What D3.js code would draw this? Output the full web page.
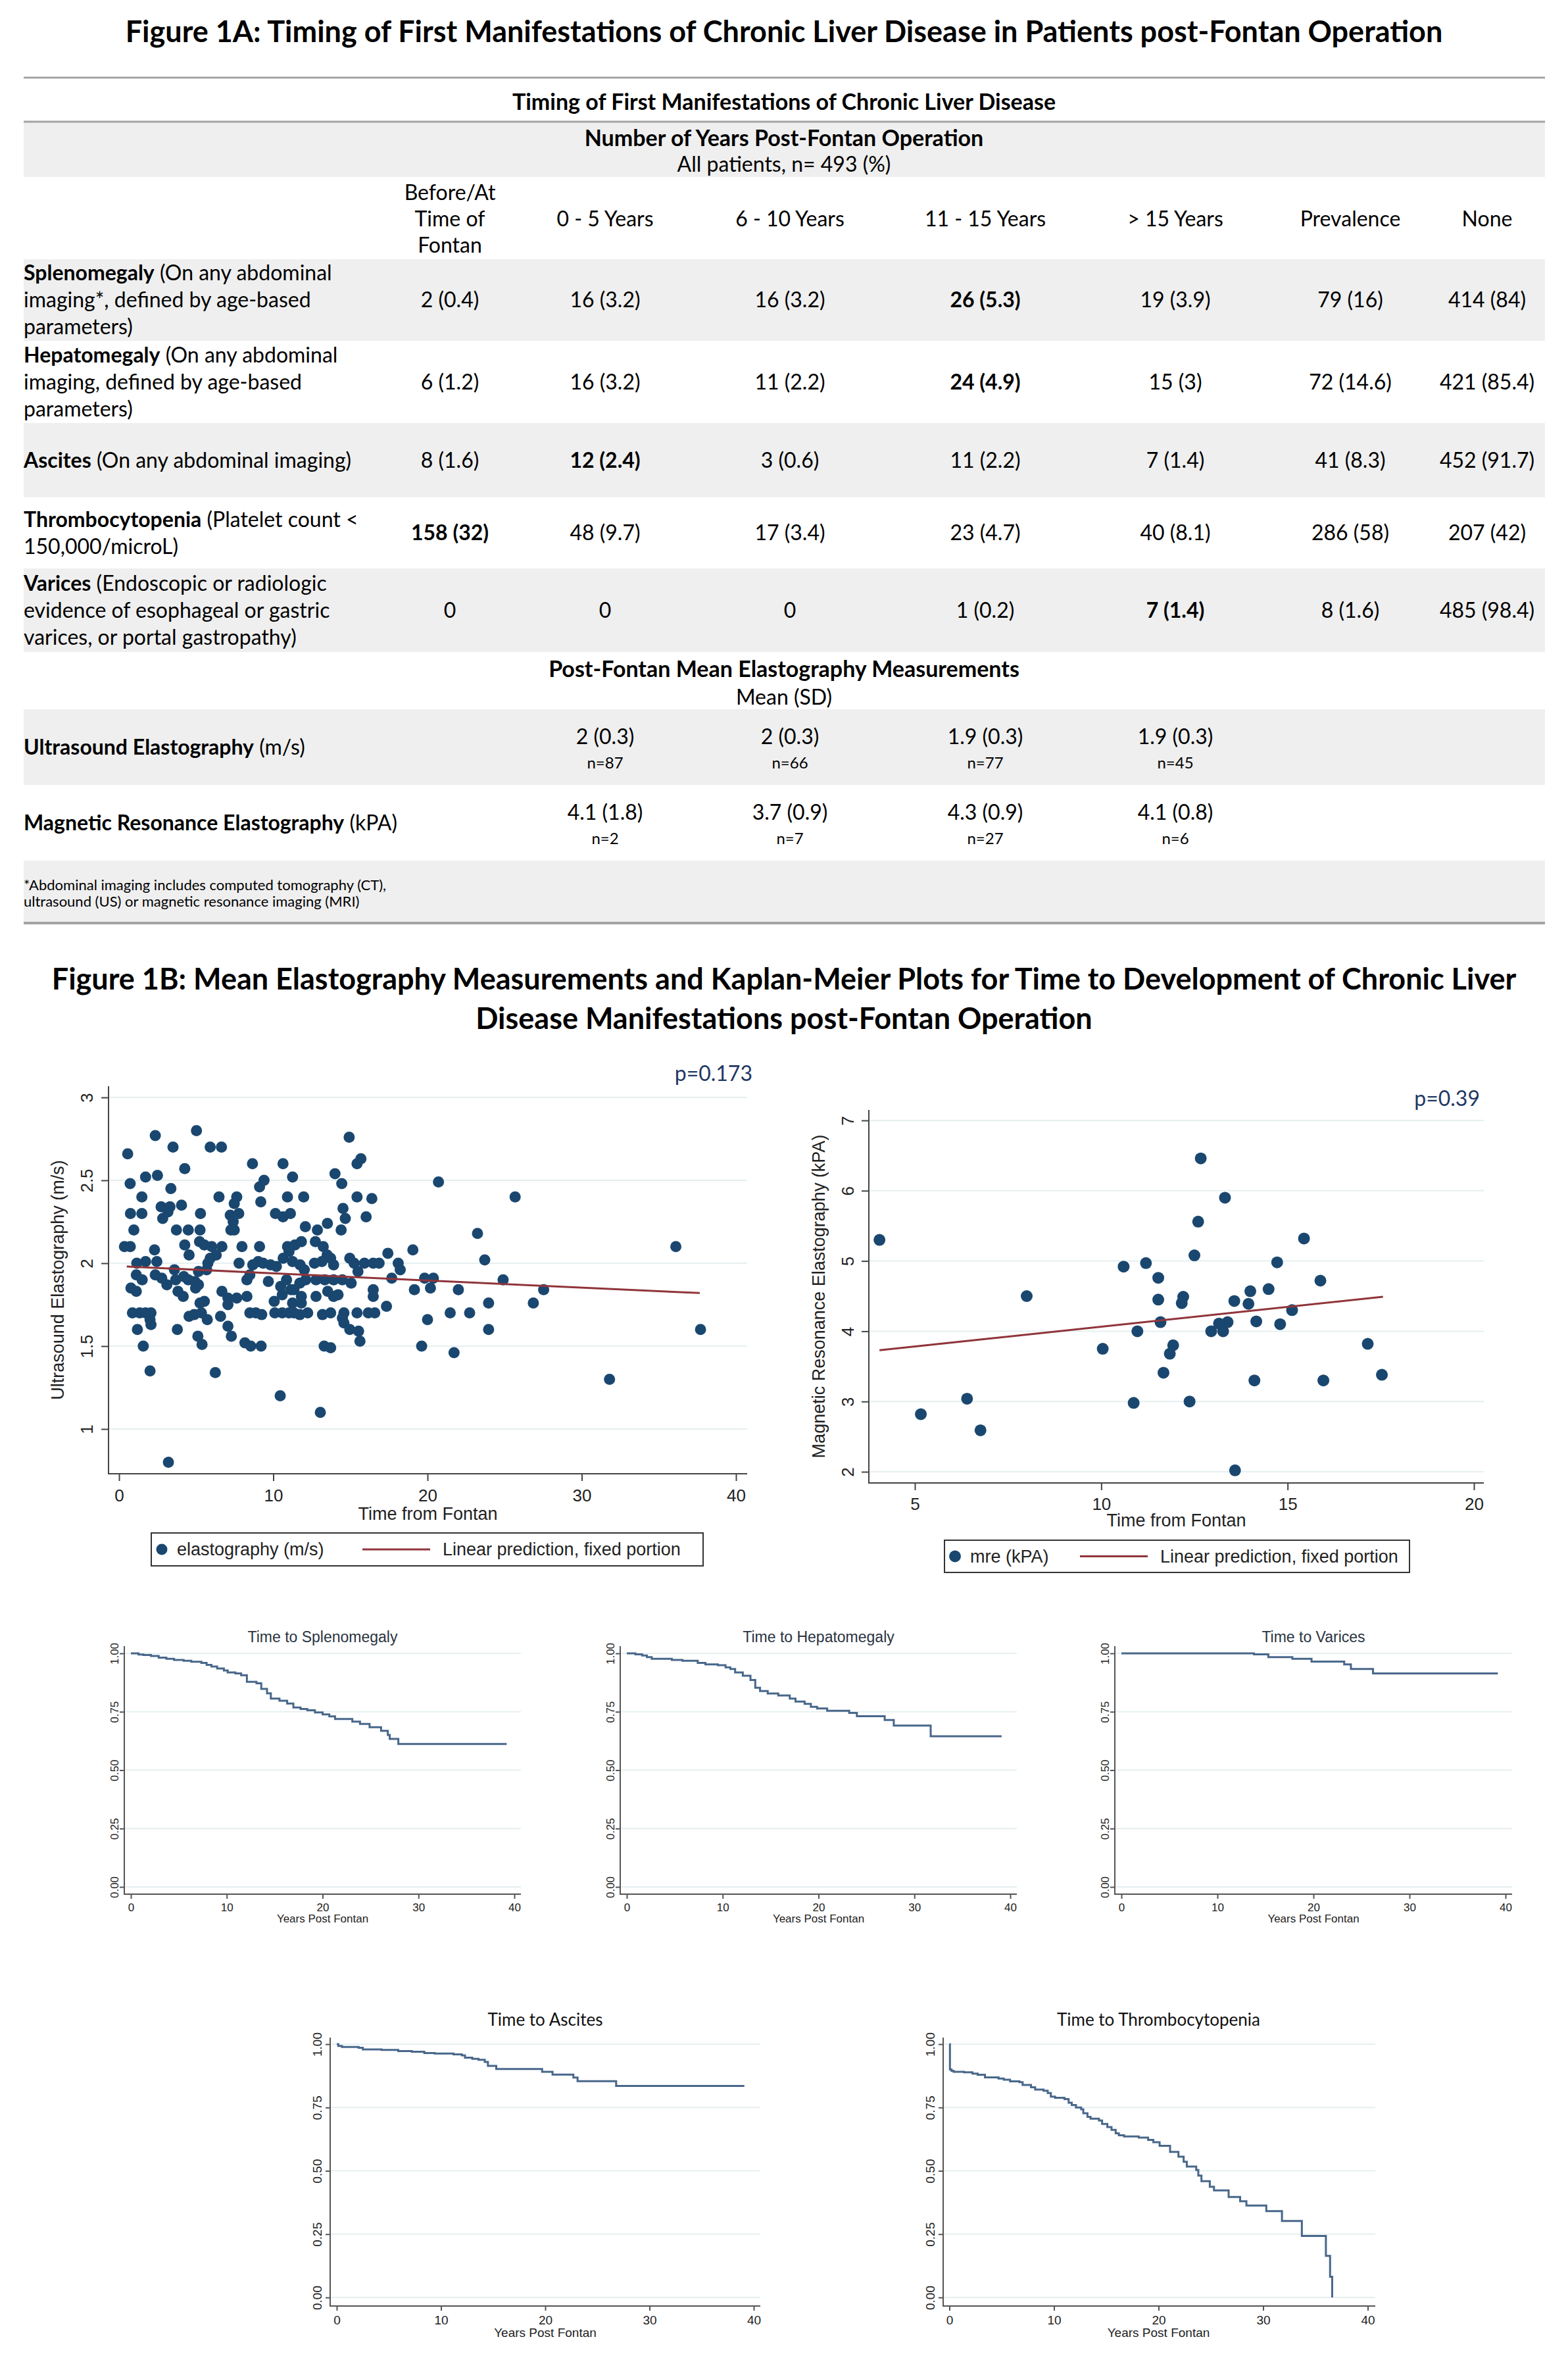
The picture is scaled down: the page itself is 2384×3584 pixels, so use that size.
<!DOCTYPE html>
<html>
<head>
<meta charset="utf-8">
<script src="https://cdn.jsdelivr.net/npm/d3@7"></script>
<style>
  body { margin: 0; background: #fff; }
  svg { display: block; }
</style>
</head>
<body>
<svg id="figure"></svg>
<script>
// ---------- Figure 1A table ----------
const columnHeads = [['Before/At', 'Time of', 'Fontan'], ['0 - 5 Years'], ['6 - 10 Years'], ['11 - 15 Years'], ['> 15 Years'], ['Prevalence'], ['None']];
const manifestations = ['Splenomegaly', 'Hepatomegaly', 'Ascites', 'Thrombocytopenia', 'Varices'];
const definitionLines = [
  [' (On any abdominal', 'imaging*, defined by age-based', 'parameters)'],
  [' (On any abdominal', 'imaging, defined by age-based', 'parameters)'],
  [' (On any abdominal imaging)'],
  [' (Platelet count  <', '150,000/microL)'],
  [' (Endoscopic or radiologic', 'evidence of esophageal or gastric', 'varices, or portal gastropathy)']
];
const onsetCounts = [[2, 16, 16, 26, 19], [6, 16, 11, 24, 15], [8, 12, 3, 11, 7], [158, 48, 17, 23, 40], [0, 0, 0, 1, 7]];
const onsetPercents = [[0.4, 3.2, 3.2, 5.3, 3.9], [1.2, 3.2, 2.2, 4.9, 3], [1.6, 2.4, 0.6, 2.2, 1.4], [32, 9.7, 3.4, 4.7, 8.1], [null, null, null, 0.2, 1.4]];
const prevalence = [[79, 16], [72, 14.6], [41, 8.3], [286, 58], [8, 1.6]];
const noneCounts = [[414, 84], [421, 85.4], [452, 91.7], [207, 42], [485, 98.4]];

const elastoNames = ['Ultrasound Elastography', 'Magnetic Resonance Elastography'];
const elastoUnits = [' (m/s)', ' (kPA)'];
const elastoMeans = [[2, 2, 1.9, 1.9], [4.1, 3.7, 4.3, 4.1]];
const elastoSDs = [[0.3, 0.3, 0.3, 0.3], [1.8, 0.9, 0.9, 0.8]];
const elastoNs = [[87, 66, 77, 45], [2, 7, 27, 6]];

// ---------- Figure 1B scatter data: [years from Fontan, value] ----------
const usPoints = [
  [0.56, 2.66], [2.35, 2.77], [5.02, 2.80], [14.92, 2.76], [3.5, 2.70], [5.91, 2.70], [6.64, 2.70], [15.68, 2.63], [15.43, 2.60], [8.65, 2.60],
  [10.63, 2.60], [4.26, 2.57], [1.72, 2.52], [2.49, 2.53], [0.72, 2.48], [9.40, 2.50], [9.11, 2.46], [11.25, 2.52], [14.0, 2.54], [14.44, 2.48],
  [20.71, 2.49], [3.36, 2.45], [1.48, 2.40], [6.48, 2.40], [7.63, 2.40], [7.47, 2.36], [9.19, 2.37], [10.92, 2.40], [11.97, 2.40], [15.43, 2.40],
  [16.39, 2.39], [25.68, 2.40], [2.73, 2.34], [3.3, 2.34], [4.05, 2.35], [0.74, 2.30], [1.48, 2.30], [2.83, 2.27], [3.17, 2.31], [5.28, 2.30],
  [7.21, 2.29], [7.76, 2.30], [7.4, 2.25], [10.14, 2.30], [10.63, 2.28], [11.11, 2.30], [14.52, 2.33], [14.67, 2.27], [16.02, 2.28], [0.96, 2.20],
  [3.72, 2.20], [4.49, 2.20], [5.25, 2.20], [7.25, 2.20], [7.47, 2.20], [12.08, 2.22], [12.86, 2.20], [13.51, 2.24], [14.40, 2.20], [23.24, 2.18],
  [0.35, 2.10], [0.73, 2.10], [2.3, 2.08], [4.26, 2.11], [4.54, 2.05], [5.22, 2.13], [5.53, 2.11], [6.01, 2.10], [6.67, 2.10], [6.30, 2.05],
  [7.97, 2.10], [9.11, 2.10], [10.92, 2.10], [11.40, 2.11], [11.82, 2.13], [11.02, 2.07], [12.73, 2.13], [13.24, 2.10], [13.49, 2.05], [17.43, 2.06],
  [19.05, 2.08], [23.71, 2.02], [1.15, 2.00], [1.72, 2.01], [2.45, 2.01], [5.76, 2.00], [5.91, 2.03], [7.78, 2.00], [8.67, 1.99], [9.02, 2.01],
  [9.34, 2.00], [9.82, 1.99], [10.2, 1.98], [10.64, 2.03], [11.25, 2.01], [11.74, 1.99], [12.01, 1.96], [12.67, 2.00], [13.15, 2.01], [13.72, 2.03],
  [13.91, 1.99], [14.96, 2.03], [15.24, 2.00], [15.91, 2.00], [16.48, 2.00], [16.86, 2.00], [18.1, 2.00], [18.23, 1.96], [1.12, 1.93], [1.5, 1.90],
  [2.35, 1.93], [2.77, 1.91], [3.1, 1.87], [3.59, 1.96], [3.67, 1.90], [4.2, 1.92], [4.49, 1.90], [4.92, 1.89], [5.15, 1.95], [5.15, 1.87],
  [5.68, 1.96], [8.29, 1.90], [8.48, 1.93], [9.68, 1.89], [10.48, 1.86], [10.86, 1.90], [11.15, 1.84], [11.72, 1.88], [12.10, 1.90], [12.77, 1.90],
  [13.34, 1.90], [13.91, 1.90], [14.48, 1.90], [15.05, 1.88], [15.49, 1.95], [17.68, 1.91], [19.81, 1.91], [20.38, 1.91], [20.19, 1.85], [24.9, 1.90],
  [0.77, 1.85], [1.12, 1.83], [3.82, 1.83], [4.16, 1.80], [4.96, 1.85], [6.67, 1.83], [7.06, 1.79], [7.63, 1.79], [8.29, 1.80], [10.06, 1.77],
  [10.58, 1.81], [11.34, 1.84], [11.82, 1.80], [12.77, 1.80], [13.53, 1.83], [13.91, 1.80], [14.2, 1.81], [16.48, 1.84], [16.48, 1.80], [19.15, 1.84],
  [22.0, 1.84], [27.53, 1.84], [5.25, 1.76], [5.53, 1.77], [7.06, 1.75], [11.25, 1.76], [11.82, 1.76], [23.96, 1.76], [26.86, 1.76], [17.34, 1.74],
  [0.87, 1.70], [1.34, 1.70], [1.72, 1.70], [2.07, 1.70], [2.01, 1.66], [2.07, 1.63], [4.54, 1.68], [4.87, 1.69], [5.34, 1.70], [5.72, 1.66],
  [6.58, 1.68], [8.48, 1.70], [8.87, 1.70], [9.25, 1.69], [10.1, 1.70], [10.58, 1.70], [11.02, 1.70], [11.34, 1.70], [11.72, 1.69], [12.23, 1.70],
  [13.19, 1.69], [13.72, 1.70], [14.58, 1.70], [15.43, 1.70], [16.16, 1.70], [16.58, 1.70], [21.47, 1.70], [22.73, 1.70], [14.48, 1.67], [20.0, 1.66],
  [1.19, 1.60], [3.78, 1.60], [7.06, 1.62], [14.58, 1.64], [14.96, 1.60], [15.53, 1.59], [23.96, 1.60], [5.11, 1.56], [7.28, 1.56], [15.62, 1.53],
  [1.57, 1.50], [5.38, 1.51], [8.16, 1.52], [8.54, 1.50], [9.21, 1.50], [13.30, 1.50], [13.72, 1.49], [19.62, 1.50], [21.72, 1.46], [2.01, 1.35],
  [6.24, 1.34], [10.45, 1.20], [13.05, 1.10], [31.8, 1.30], [36.1, 2.10], [37.7, 1.60], [3.2, 0.80]
];
const usFit = [[0.5, 1.98], [37.65, 1.82]];

const mrePoints = [
  [4.05, 5.30], [5.16, 2.82], [6.4, 3.04], [6.76, 2.59], [8.0, 4.50], [10.04, 3.75], [10.6, 4.92], [10.87, 2.98], [10.97, 4.0], [11.2, 4.97],
  [11.53, 4.76], [11.53, 4.45], [11.59, 4.13], [11.67, 3.41], [11.84, 3.68], [11.93, 3.80], [12.2, 4.49], [12.16, 4.40], [12.37, 3.0], [12.5, 5.08],
  [12.6, 5.56], [12.67, 6.46], [12.95, 4.0], [13.16, 4.11], [13.27, 4.0], [13.32, 5.90], [13.39, 4.13], [13.57, 4.43], [13.59, 2.02], [13.95, 4.39],
  [14.0, 4.57], [14.11, 3.30], [14.16, 4.14], [14.49, 4.60], [14.72, 4.98], [14.8, 4.10], [15.12, 4.30], [15.44, 5.32], [15.88, 4.72], [15.96, 3.30],
  [17.15, 3.82], [17.53, 3.38]
];
const mreFit = [[4.05, 3.73], [17.56, 4.49]];

// ---------- Kaplan-Meier estimates: [years post Fontan, survival] ----------
const kmSplenomegaly = [[0, 1], [0.8, 0.995], [1.3, 0.993], [2.1, 0.989], [2.9, 0.982], [3.7, 0.977], [4.5, 0.972], [5.5, 0.968], [6.3, 0.964], [7.35, 0.959],
  [7.9, 0.951], [8.4, 0.944], [9.0, 0.935], [9.7, 0.927], [10.1, 0.918], [10.9, 0.914], [11.5, 0.906], [12.1, 0.878], [13.1, 0.872], [13.6, 0.848],
  [14.2, 0.829], [14.6, 0.806], [15.5, 0.797], [16.3, 0.785], [16.95, 0.768], [17.7, 0.762], [18.4, 0.756], [19.2, 0.747], [20.0, 0.739], [20.7, 0.730],
  [21.3, 0.719], [23.1, 0.708], [23.9, 0.698], [24.9, 0.684], [26.1, 0.668], [26.8, 0.651], [27.0, 0.634], [27.9, 0.612], [39.2, 0.612]];
const kmHepatomegaly = [[0, 1], [0.9, 0.996], [1.6, 0.991], [2.1, 0.984], [2.6, 0.977], [4.7, 0.972], [5.8, 0.968], [7.4, 0.959], [8.2, 0.953], [9.5, 0.949],
  [10.3, 0.940], [10.8, 0.933], [11.3, 0.918], [12.1, 0.904], [12.9, 0.886], [13.4, 0.853], [13.9, 0.839], [14.7, 0.828], [15.8, 0.820], [17.0, 0.806],
  [17.6, 0.794], [18.55, 0.784], [19.2, 0.771], [19.85, 0.764], [20.9, 0.754], [23.2, 0.745], [24.0, 0.731], [26.9, 0.715], [27.85, 0.691], [31.7, 0.645],
  [39.1, 0.645]];
const kmVarices = [[0, 1], [13.8, 0.996], [15.3, 0.984], [17.8, 0.977], [19.8, 0.965], [23.2, 0.953], [23.9, 0.933], [26.2, 0.914], [39.2, 0.914]];
const kmAscites = [[0, 1], [0.15, 0.993], [0.5, 0.989], [2.1, 0.986], [2.5, 0.979], [4.3, 0.977], [5.9, 0.973], [7.2, 0.970], [8.4, 0.965], [9.4, 0.963],
  [11.2, 0.960], [12.0, 0.956], [12.3, 0.947], [13.0, 0.942], [13.6, 0.938], [14.2, 0.930], [14.5, 0.914], [15.3, 0.902], [19.7, 0.891], [20.7, 0.880],
  [22.7, 0.868], [23.1, 0.854], [26.8, 0.835], [39.1, 0.835]];
const kmThrombocytopenia = [[0, 1], [0.05, 0.90], [0.2, 0.895], [0.4, 0.891], [1.4, 0.889], [2.2, 0.884], [2.7, 0.879], [3.4, 0.869], [4.7, 0.864], [5.2, 0.860],
  [5.8, 0.853], [6.7, 0.850], [7.0, 0.839], [7.8, 0.830], [8.2, 0.821], [9.0, 0.816], [9.4, 0.807], [9.7, 0.793], [10.1, 0.788], [11.0, 0.783],
  [11.4, 0.769], [11.7, 0.760], [12.1, 0.750], [12.6, 0.743], [12.8, 0.727], [13.2, 0.713], [13.5, 0.706], [14.3, 0.699], [14.6, 0.685], [15.1, 0.673],
  [15.5, 0.662], [15.9, 0.648], [16.2, 0.640], [16.7, 0.636], [18.1, 0.631], [19.0, 0.622], [19.5, 0.613], [20.1, 0.599], [21.1, 0.575], [21.9, 0.556],
  [22.4, 0.536], [22.7, 0.517], [23.6, 0.503], [23.8, 0.481], [24.1, 0.459], [24.9, 0.437], [25.3, 0.423], [26.7, 0.397], [27.8, 0.380], [28.4, 0.363],
  [30.3, 0.341], [31.8, 0.302], [33.7, 0.243], [36.0, 0.164], [36.4, 0.082], [36.6, 0]];

const survivalTicks = [0, 0.25, 0.5, 0.75, 1];
const yearTicks = [0, 10, 20, 30, 40];

// ---------- page ----------
const W = 2384, H = 3584;
const docFont = 'Lato, "Open Sans", sans-serif';
const statFont = '"Liberation Sans", Arial, sans-serif';
const bandColor = '#efefef';
const ruleColor = '#a3a3a3';
const gridColor = '#e6eff0';
const navy = '#1a476f';
const maroon = '#90353b';
const kmColor = '#48678a';

const svg = d3.select('#figure').attr('width', W).attr('height', H);
svg.append('rect').attr('width', W).attr('height', H).attr('fill', '#fff');

// text whose visual middle sits at y
function addText(parent, x, y, str, opts = {}) {
  return parent.append('text')
      .attr('x', x)
      .attr('y', y)
      .attr('dy', '0.35em')
      .attr('text-anchor', opts.anchor || 'middle')
      .attr('font-family', opts.family || docFont)
      .attr('font-size', opts.size || 32)
      .attr('font-weight', opts.weight || 'normal')
      .attr('fill', opts.fill || '#000')
      .text(str);
}

function cellText(count, pct) {
  return pct === null ? String(count) : `${count} (${pct})`;
}

function drawTable() {
  const g = svg.append('g');
  const left = 36, right = 2349;
  const colX = d3.scaleOrdinal().domain(d3.range(7)).range([684, 920, 1201, 1498, 1787, 2053, 2261]);
  const rowBands = [[394, 518], [518, 643], [643, 756], [756, 864], [864, 991]];
  const shaded = [[185, 269], [394, 518], [643, 756], [864, 991], [1078, 1193], [1308, 1402]];
  const lineGap = 41;

  addText(g, W / 2, 48, 'Figure 1A: Timing of First Manifestations of Chronic Liver Disease in Patients post-Fontan Operation', {size: 45, weight: 'bold'});

  g.append('g').selectAll('rect')
    .data(shaded)
    .join('rect')
      .attr('x', left)
      .attr('width', right - left)
      .attr('y', d => d[0])
      .attr('height', d => d[1] - d[0])
      .attr('fill', bandColor);

  g.append('g').selectAll('line')
    .data([[118, 3], [185, 3], [1403, 4]])
    .join('line')
      .attr('x1', left).attr('x2', right)
      .attr('y1', d => d[0]).attr('y2', d => d[0])
      .attr('stroke', ruleColor)
      .attr('stroke-width', d => d[1]);

  addText(g, W / 2, 155, 'Timing of First Manifestations of Chronic Liver Disease', {size: 34, weight: 'bold'});
  addText(g, W / 2, 210, 'Number of Years Post-Fontan Operation', {size: 34, weight: 'bold'});
  addText(g, W / 2, 250, 'All patients, n= 493 (%)');

  // column headers
  columnHeads.forEach((lines, i) => {
    lines.forEach((s, j) => {
      addText(g, colX(i), 333 + (j - (lines.length - 1) / 2) * 40, s);
    });
  });

  // manifestation rows
  manifestations.forEach((name, r) => {
    const mid = (rowBands[r][0] + rowBands[r][1]) / 2;
    const lines = definitionLines[r];
    lines.forEach((s, j) => {
      const t = addText(g, left, mid + (j - (lines.length - 1) / 2) * lineGap, '', {anchor: 'start'});
      if (j === 0) {
        t.append('tspan').attr('font-weight', 'bold').text(name);
      }
      t.append('tspan').text(s);
    });
    const peak = d3.maxIndex(onsetCounts[r]);
    const cells = onsetCounts[r].map((c, k) => cellText(c, onsetPercents[r][k]));
    cells.push(cellText(prevalence[r][0], prevalence[r][1]));
    cells.push(cellText(noneCounts[r][0], noneCounts[r][1]));
    cells.forEach((s, k) => {
      addText(g, colX(k), mid, s, {weight: k === peak ? 'bold' : 'normal'});
    });
  });

  // elastography block
  addText(g, W / 2, 1017, 'Post-Fontan Mean Elastography Measurements', {size: 34, weight: 'bold'});
  addText(g, W / 2, 1060, 'Mean (SD)');
  const elastoBands = [[1078, 1193], [1193, 1308]];
  elastoNames.forEach((name, r) => {
    const mid = (elastoBands[r][0] + elastoBands[r][1]) / 2;
    const t = addText(g, left, mid, '', {anchor: 'start'});
    t.append('tspan').attr('font-weight', 'bold').text(name);
    t.append('tspan').text(elastoUnits[r]);
    elastoMeans[r].forEach((m, k) => {
      addText(g, colX(k + 1), mid - 16, `${m} (${elastoSDs[r][k]})`);
      addText(g, colX(k + 1), mid + 24, `n=${elastoNs[r][k]}`, {size: 24});
    });
  });

  addText(g, left, 1345, '*Abdominal imaging includes computed tomography (CT),', {anchor: 'start', size: 22});
  addText(g, left, 1370, 'ultrasound (US) or magnetic resonance imaging (MRI)', {anchor: 'start', size: 22});

  addText(g, W / 2, 1488, 'Figure 1B: Mean Elastography Measurements and Kaplan-Meier Plots for Time to Development of Chronic Liver', {size: 45, weight: 'bold'});
  addText(g, W / 2, 1548, 'Disease Manifestations post-Fontan Operation', {size: 45, weight: 'bold'});
}

// d3.axis writes its own font attributes, so restyle after the call
function styleAxis(g, family, size, tickColor) {
  g.attr('font-family', family).attr('font-size', size);
  g.select('.domain').remove();
  g.selectAll('.tick line').attr('stroke', tickColor).attr('stroke-width', 2);
  g.selectAll('.tick text').attr('fill', '#222');
}

class ScatterPlot {
  constructor(_config) {
    this.config = _config;
  }

  render() {
    let vis = this;
    const c = vis.config;
    const f = c.frame;
    vis.chart = svg.append('g');

    vis.x = d3.scaleLinear().domain(c.xDomain).range(c.xRange);
    vis.y = d3.scaleLinear().domain(c.yDomain).range(c.yRange);

    vis.chart.append('g')
      .selectAll('line')
      .data(c.yTicks)
      .join('line')
        .attr('x1', f.left).attr('x2', f.right)
        .attr('y1', d => vis.y(d)).attr('y2', d => vis.y(d))
        .attr('stroke', gridColor)
        .attr('stroke-width', 2);

    vis.chart.append('g')
        .attr('transform', `translate(0,${f.bottom})`)
        .call(d3.axisBottom(vis.x).tickValues(c.xTicks).tickFormat(d => d).tickSize(11).tickPadding(c.xPad))
        .call(styleAxis, statFont, 26, '#444');

    vis.chart.append('g')
        .attr('transform', `translate(${f.left},0)`)
        .call(d3.axisLeft(vis.y).tickValues(c.yTicks).tickFormat(d => d).tickSize(11))
        .call(styleAxis, statFont, 26, '#444')
        .call(g => g.selectAll('.tick text')
            .attr('x', null)
            .attr('dy', '0.35em')
            .attr('text-anchor', 'middle')
            .attr('transform', `translate(${-c.yLabelOffset},0) rotate(-90)`));

    vis.chart.append('path')
        .attr('d', `M${f.left},${f.top}V${f.bottom}H${f.right}`)
        .attr('fill', 'none')
        .attr('stroke', '#444')
        .attr('stroke-width', 2);

    vis.chart.append('g')
      .selectAll('circle')
      .data(c.points)
      .join('circle')
        .attr('cx', d => vis.x(d[0]))
        .attr('cy', d => vis.y(d[1]))
        .attr('r', c.radius)
        .attr('fill', navy);

    vis.chart.append('path')
        .datum(c.fit)
        .attr('d', d3.line().x(d => vis.x(d[0])).y(d => vis.y(d[1])))
        .attr('fill', 'none')
        .attr('stroke', maroon)
        .attr('stroke-width', 3);

    const ty = (f.top + f.bottom) / 2;
    const tx = f.left - c.yTitleOffset;
    addText(vis.chart, tx, ty, c.yTitle, {family: statFont, size: 27, fill: '#222'})
        .attr('transform', `rotate(-90,${tx},${ty})`);
    addText(vis.chart, (f.left + f.right) / 2, c.xTitleY, 'Time from Fontan', {family: statFont, size: 27, fill: '#222'});
    addText(vis.chart, c.pX, c.pY, c.pText, {anchor: 'end', size: 32, fill: '#1f3864'});

    // legend
    const lg = c.legend;
    const mid = (lg.top + lg.bottom) / 2;
    vis.chart.append('rect')
        .attr('x', lg.left).attr('y', lg.top)
        .attr('width', lg.right - lg.left).attr('height', lg.bottom - lg.top)
        .attr('fill', '#fff')
        .attr('stroke', '#333')
        .attr('stroke-width', 2);
    vis.chart.append('circle')
        .attr('cx', lg.left + 16).attr('cy', mid)
        .attr('r', c.radius)
        .attr('fill', navy);
    addText(vis.chart, lg.left + 39, mid, c.pointLabel, {anchor: 'start', family: statFont, size: 27, fill: '#222'});
    vis.chart.append('line')
        .attr('x1', lg.lineX).attr('x2', lg.lineX + 103)
        .attr('y1', mid).attr('y2', mid)
        .attr('stroke', maroon)
        .attr('stroke-width', 3);
    addText(vis.chart, lg.lineX + 122, mid, 'Linear prediction, fixed portion', {anchor: 'start', family: statFont, size: 27, fill: '#222'});
  }
}

class KaplanMeier {
  constructor(_config) {
    this.config = _config;
  }

  render() {
    let vis = this;
    const c = vis.config;
    const f = c.frame;
    vis.chart = svg.append('g');

    vis.x = d3.scaleLinear().domain([0, 40]).range(c.xRange);
    vis.y = d3.scaleLinear().domain([0, 1]).range(c.yRange);

    vis.chart.append('g')
      .selectAll('line')
      .data(survivalTicks)
      .join('line')
        .attr('x1', f.left).attr('x2', f.right)
        .attr('y1', d => vis.y(d)).attr('y2', d => vis.y(d))
        .attr('stroke', gridColor)
        .attr('stroke-width', 2);

    vis.chart.append('g')
        .attr('transform', `translate(0,${f.bottom})`)
        .call(d3.axisBottom(vis.x).tickValues(yearTicks).tickFormat(d => d).tickSize(7).tickPadding(c.xPad))
        .call(styleAxis, statFont, c.tickSize, '#555');

    vis.chart.append('g')
        .attr('transform', `translate(${f.left},0)`)
        .call(d3.axisLeft(vis.y).tickValues(survivalTicks).tickFormat(d3.format('.2f')).tickSize(7))
        .call(styleAxis, statFont, c.tickSize, '#555')
        .call(g => g.selectAll('.tick text')
            .attr('x', null)
            .attr('dy', '0.35em')
            .attr('text-anchor', 'middle')
            .attr('transform', `translate(${-c.yLabelOffset},0) rotate(-90)`));

    vis.chart.append('path')
        .attr('d', `M${f.left},${f.top}V${f.bottom}H${f.right}`)
        .attr('fill', 'none')
        .attr('stroke', '#555')
        .attr('stroke-width', 2);

    vis.chart.append('path')
        .datum(c.data)
        .attr('d', d3.line().curve(d3.curveStepAfter).x(d => vis.x(d[0])).y(d => vis.y(d[1])))
        .attr('fill', 'none')
        .attr('stroke', kmColor)
        .attr('stroke-width', 3);

    addText(vis.chart, vis.x(20), c.titleY, c.title, c.titleStyle);
    addText(vis.chart, vis.x(20), c.xTitleY, 'Years Post Fontan', {family: statFont, size: c.tickSize, fill: '#222'});
  }
}

drawTable();

new ScatterPlot({
  xDomain: [0, 40], xRange: [181, 1119],
  yDomain: [1, 3], yRange: [2172, 1668],
  frame: {left: 165, right: 1136, top: 1651, bottom: 2240},
  xTicks: [0, 10, 20, 30, 40], yTicks: [1, 1.5, 2, 2.5, 3],
  xPad: 13, yLabelOffset: 33, yTitleOffset: 77, xTitleY: 2301,
  points: usPoints, fit: usFit, radius: 8.5,
  yTitle: 'Ultrasound Elastography (m/s)',
  pText: 'p=0.173', pX: 1144, pY: 1632,
  pointLabel: 'elastography (m/s)',
  legend: {left: 230, right: 1069, top: 2330, bottom: 2380, lineX: 551}
}).render();

new ScatterPlot({
  xDomain: [5, 20], xRange: [1391, 2241],
  yDomain: [2, 7], yRange: [2237, 1703],
  frame: {left: 1321, right: 2256, top: 1687, bottom: 2254},
  xTicks: [5, 10, 15, 20], yTicks: [2, 3, 4, 5, 6, 7],
  xPad: 12, yLabelOffset: 32, yTitleOffset: 76, xTitleY: 2311,
  points: mrePoints, fit: mreFit, radius: 9,
  yTitle: 'Magnetic Resonance Elastography (kPA)',
  pText: 'p=0.39', pX: 2250, pY: 1670,
  pointLabel: 'mre (kPA)',
  legend: {left: 1436, right: 2143, top: 2341, bottom: 2390, lineX: 1642}
}).render();

const topTitle = {family: statFont, size: 23, fill: '#2a3440'};
const bottomTitle = {family: docFont, size: 26, fill: '#111'};

[
  {data: kmSplenomegaly, title: 'Time to Splenomegaly', xRange: [199, 782], frame: {left: 189, right: 792}},
  {data: kmHepatomegaly, title: 'Time to Hepatomegaly', xRange: [953, 1536], frame: {left: 943, right: 1546}},
  {data: kmVarices, title: 'Time to Varices', xRange: [1705, 2289], frame: {left: 1695, right: 2299}}
].forEach(p => {
  new KaplanMeier({
    data: p.data, title: p.title, titleStyle: topTitle,
    xRange: p.xRange, yRange: [2868, 2513],
    frame: Object.assign({top: 2502, bottom: 2879}, p.frame),
    titleY: 2488, xTitleY: 2916, tickSize: 17, xPad: 7, yLabelOffset: 15
  }).render();
});

[
  {data: kmAscites, title: 'Time to Ascites', xRange: [512, 1146], frame: {left: 502, right: 1156}},
  {data: kmThrombocytopenia, title: 'Time to Thrombocytopenia', xRange: [1443.5, 2079.5], frame: {left: 1434, right: 2091}}
].forEach(p => {
  new KaplanMeier({
    data: p.data, title: p.title, titleStyle: bottomTitle,
    xRange: p.xRange, yRange: [3492, 3107],
    frame: Object.assign({top: 3097, bottom: 3505}, p.frame),
    titleY: 3070, xTitleY: 3545, tickSize: 19, xPad: 8, yLabelOffset: 20
  }).render();
});
</script>
</body>
</html>
